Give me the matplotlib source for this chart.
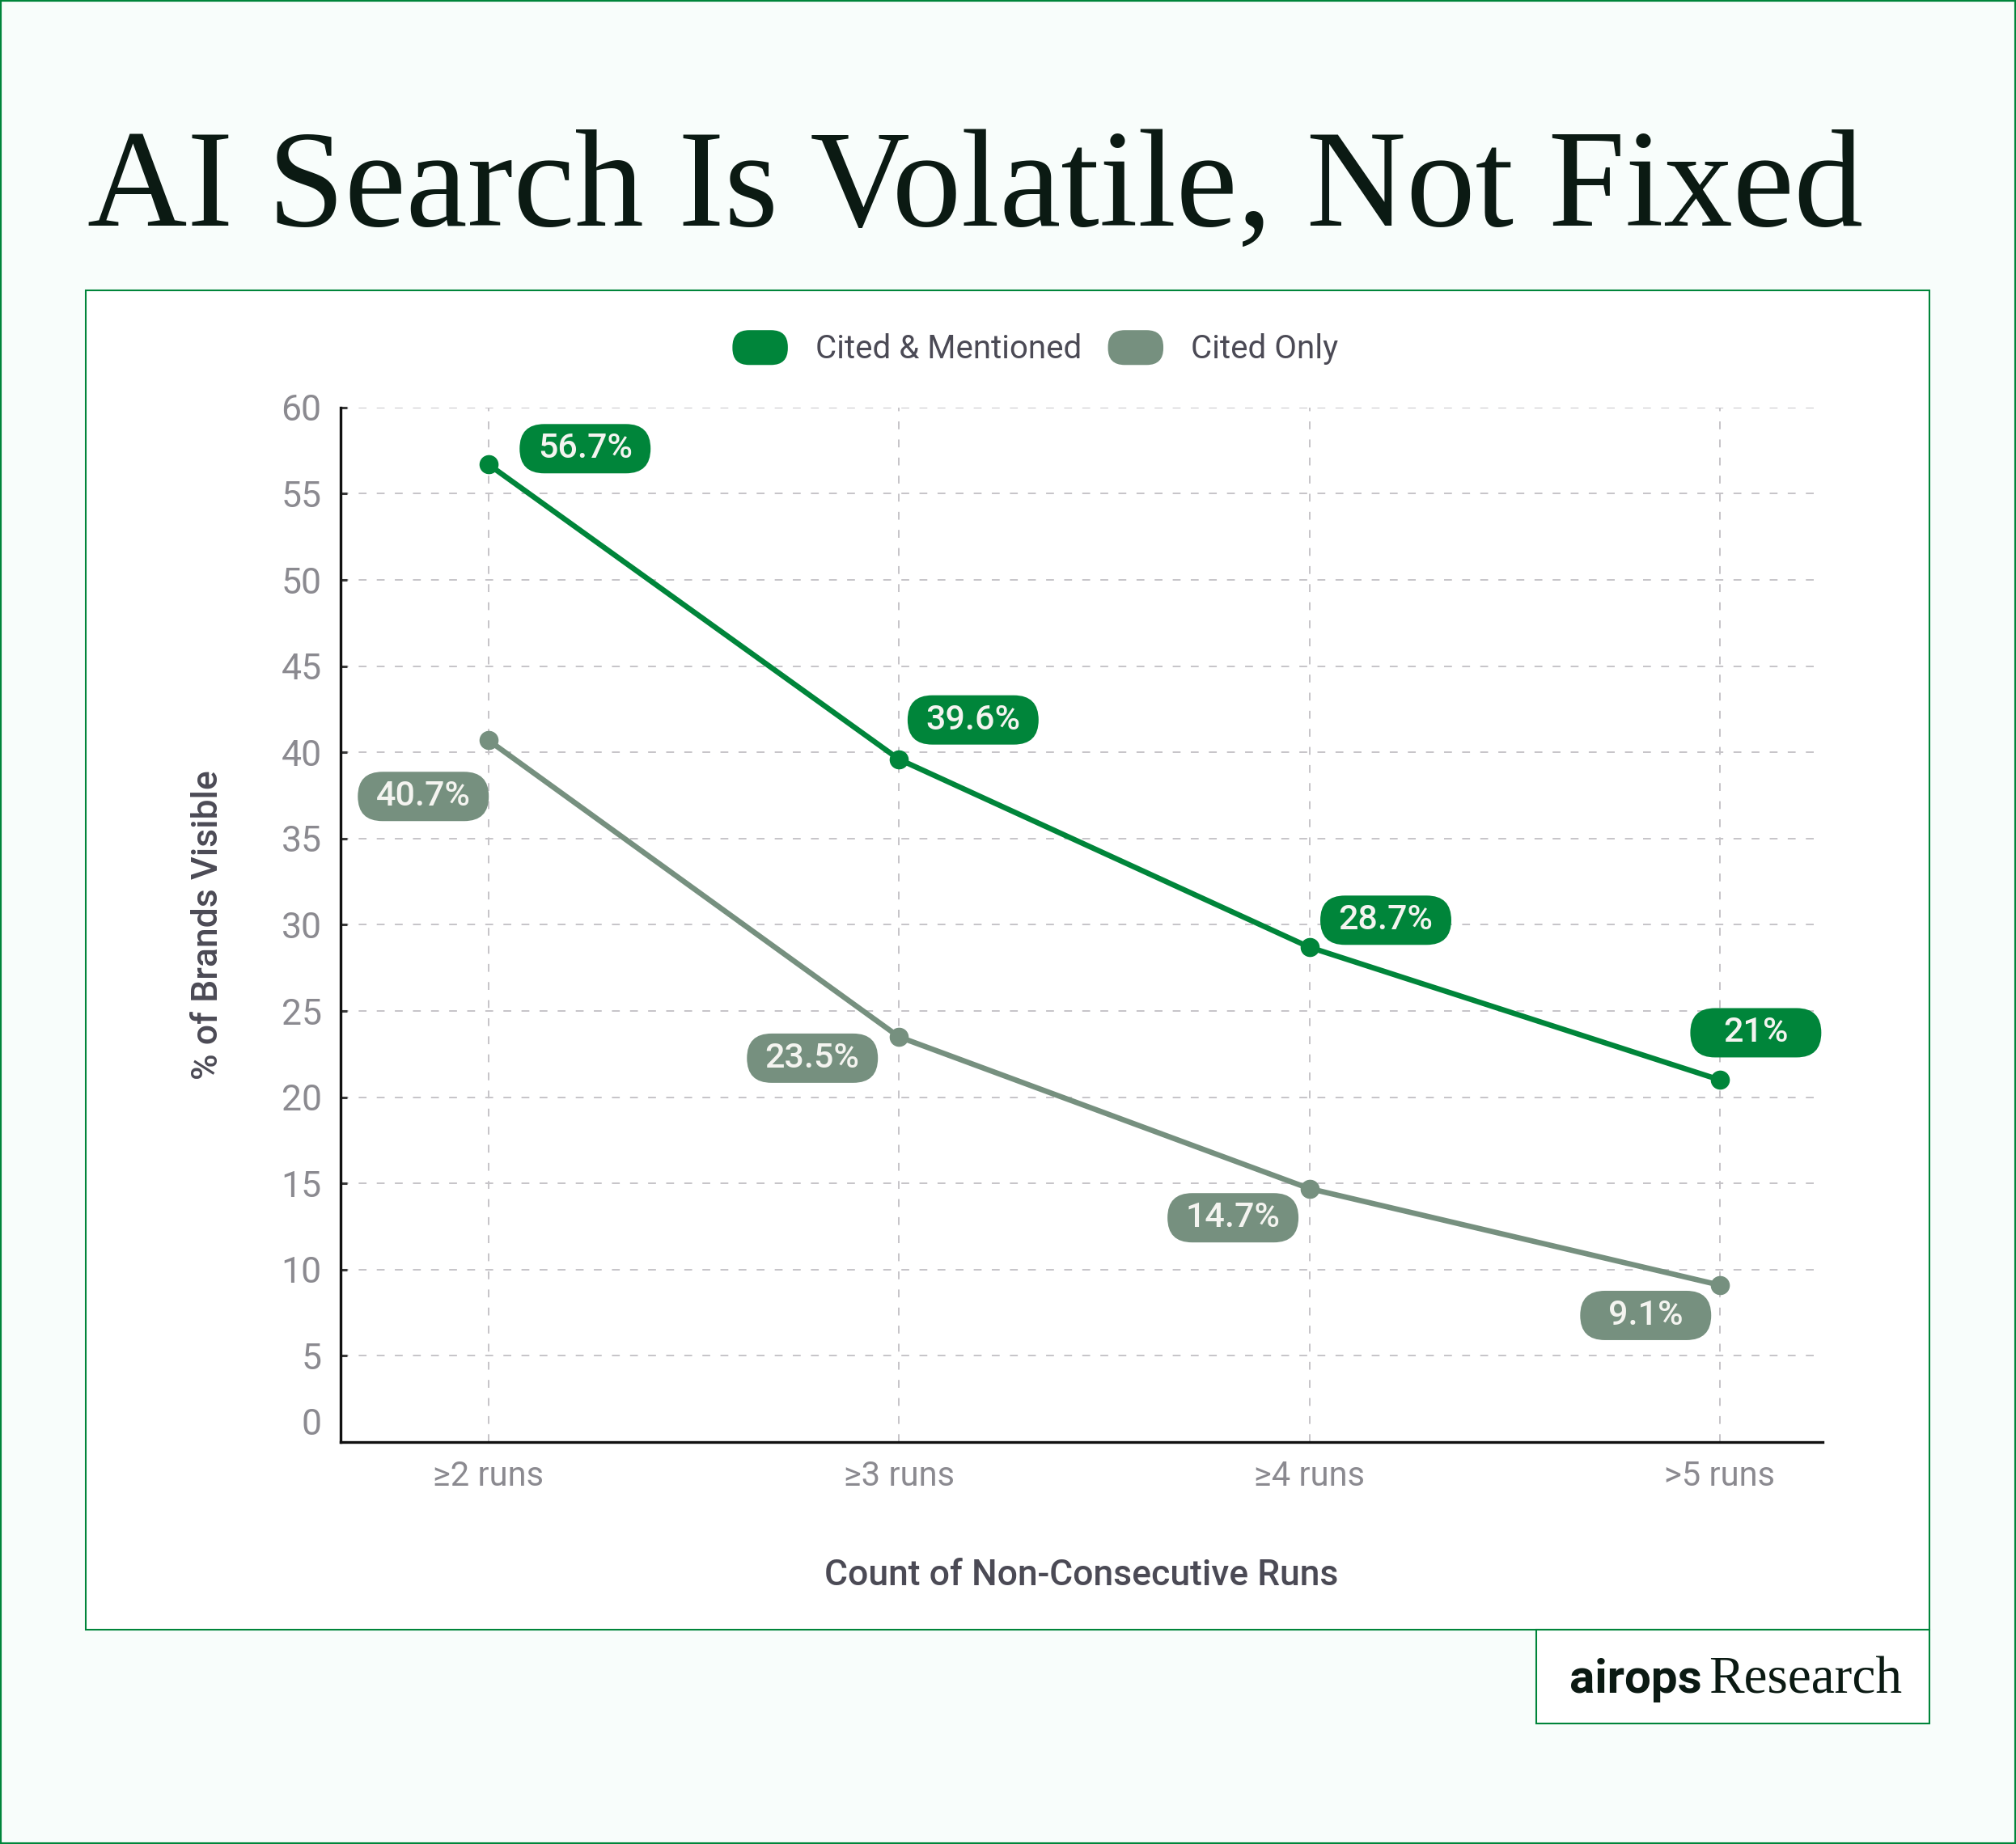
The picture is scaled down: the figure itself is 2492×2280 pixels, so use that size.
import matplotlib
matplotlib.use("Agg")
import matplotlib.pyplot as plt
from matplotlib.patches import Rectangle, FancyBboxPatch, Patch
from matplotlib.offsetbox import DrawingArea, AnnotationBbox
from matplotlib.legend_handler import HandlerPatch
from matplotlib.text import Text

# data
categories = ['≥2 runs', '≥3 runs', '≥4 runs', '>5 runs']
cited_mentioned = [56.7, 39.6, 28.7, 21.0]
cited_only = [40.7, 23.5, 14.7, 9.1]
cm_labels = ['56.7%', '39.6%', '28.7%', '21%']
co_labels = ['40.7%', '23.5%', '14.7%', '9.1%']
y_ticks = list(range(0, 61, 5))

# label offsets (points) from each marker
cm_offsets = [(86, 14), (66, 35), (68, 24), (32, 42)]
co_offsets = [(-58, -50), (-77, -19), (-68, -26), (-66, -27)]

GREEN = '#00853a'
GRAY = '#76907f'
DARK = '#4b4a55'
TICK = '#8b8a90'
SANS = ['Roboto', 'DejaVu Sans']
SERIF = ['Liberation Serif', 'DejaVu Serif']

plt.rcParams['font.family'] = SANS

fig = plt.figure(figsize=(24.92, 22.8), dpi=100)
fig.patch.set_facecolor('#f8fdfb')

# frames
fig.add_artist(Rectangle((0, 0), 1, 1, transform=fig.transFigure, fill=False,
                         edgecolor=GREEN, lw=3, zorder=-2))
fig.add_artist(Rectangle((0.0425, 0.1162), 0.9146, 0.7263, transform=fig.transFigure,
                         facecolor='white', edgecolor=GREEN, lw=1.5, zorder=-1))
fig.add_artist(Rectangle((0.762, 0.0654), 0.195, 0.0508, transform=fig.transFigure,
                         facecolor='white', edgecolor=GREEN, lw=1.5, zorder=-1))

# title
fig.text(0.0433, 0.8776, 'AI Search Is Volatile, Not Fixed', family=SERIF,
         fontsize=123, color='#0b1a13', va='baseline', ha='left')

# logo
fig.text(0.7785, 0.082, 'airops', fontsize=42, fontweight='bold', color='#0b1a13',
         va='baseline', ha='left')
fig.text(0.8475, 0.082, 'Research', family=SERIF, fontsize=47, color='#0b1a13',
         va='baseline', ha='left')

ax = fig.add_axes([0.169, 0.218, 0.735, 0.561])
ax.set_facecolor('none')

x = list(range(len(categories)))
ax.plot(x, cited_mentioned, color=GREEN, lw=4.8, marker='o', ms=16, zorder=3)
ax.plot(x, cited_only, color=GRAY, lw=4.8, marker='o', ms=16, zorder=3)

ax.set_xlim(-0.36, 3.25)
ax.set_ylim(0, 60)
ax.set_xticks(x, categories)
ax.set_yticks(y_ticks)
ax.grid(True, color='#c6c4c8', lw=1.4, ls=(0, (5, 6.5)), zorder=0)

for s in ['top', 'right']:
    ax.spines[s].set_visible(False)
for s in ['left', 'bottom']:
    ax.spines[s].set_linewidth(2.4)
    ax.spines[s].set_color('#111111')

ax.tick_params(axis='y', direction='in', length=6, width=2.2, color='#3a3a3a',
               labelsize=32, labelcolor=TICK, pad=17)
ax.tick_params(axis='x', length=0, labelsize=30, labelcolor=TICK, pad=16)
ax.get_yticklabels()[0].set_va('bottom')

ax.set_xlabel('Count of Non-Consecutive Runs', fontsize=32, fontweight='medium', color=DARK)
ax.xaxis.set_label_coords(0.5, -0.113)
ax.set_ylabel('% of Brands Visible', fontsize=32, fontweight='medium', color=DARK)
ax.yaxis.set_label_coords(-0.078, 0.5)

# pill labels
PILL_W, PILL_H = 116.6, 43.9


def pill(xv, yv, text, color, off):
    da = DrawingArea(PILL_W, PILL_H, 0, 0)
    da.add_artist(FancyBboxPatch((0, 0), PILL_W, PILL_H,
                                 boxstyle=f'round,pad=0,rounding_size={PILL_H / 2}',
                                 fc=color, ec='none'))
    da.add_artist(Text(PILL_W / 2, PILL_H / 2, text, ha='center', va='center',
                       color='#f4f4f0', fontsize=31, fontweight='medium', family=SANS))
    ab = AnnotationBbox(da, (xv, yv), xybox=off, xycoords='data', boxcoords='offset points',
                        frameon=False, box_alignment=(0.5, 0.5), pad=0, zorder=5)
    ax.add_artist(ab)


for xi, v, t, o in zip(x, cited_mentioned, cm_labels, cm_offsets):
    pill(xi, v, t, GREEN, o)
for xi, v, t, o in zip(x, cited_only, co_labels, co_offsets):
    pill(xi, v, t, GRAY, o)


# legend with pill handles
class PillHandler(HandlerPatch):
    def create_artists(self, legend, orig_handle, xdescent, ydescent, width, height,
                       fontsize, trans):
        h = 31
        cy = -ydescent + height / 2
        p = FancyBboxPatch((-xdescent, cy - h / 2), width, h,
                           boxstyle=f'round,pad=0,rounding_size={h * 0.48}',
                           fc=orig_handle.get_facecolor(), ec='none', transform=trans)
        return [p]


handles = [Patch(color=GREEN, label='Cited & Mentioned'), Patch(color=GRAY, label='Cited Only')]
fig.legend(handles=handles, loc='center', bbox_to_anchor=(0.5136, 0.811), ncol=2,
           frameon=False, fontsize=29, labelcolor=DARK, handlelength=1.7, handleheight=1.1,
           handletextpad=0.85, columnspacing=0.8, handler_map={Patch: PillHandler()})

fig.savefig('out.png', dpi=100, facecolor=fig.get_facecolor())
